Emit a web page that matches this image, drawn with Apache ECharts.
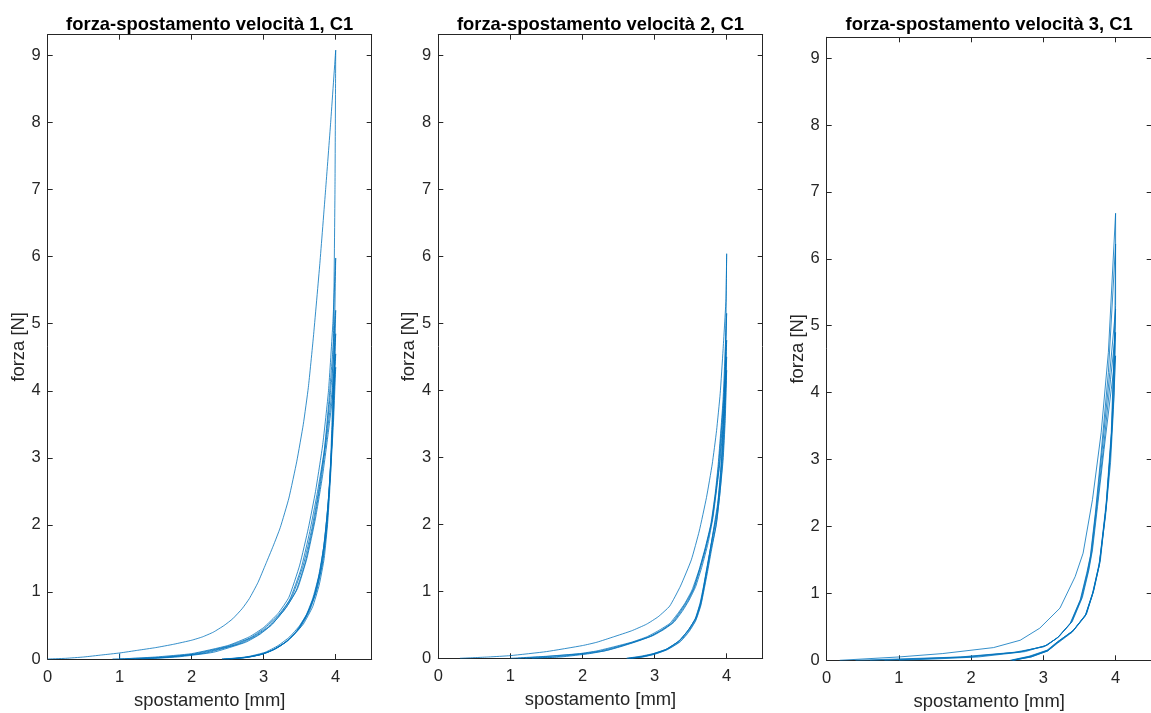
<!DOCTYPE html>
<html><head><meta charset="utf-8">
<script src="https://cdn.jsdelivr.net/npm/echarts@6/dist/echarts.min.js"></script>
<style>html,body{margin:0;padding:0;background:#fff}#c{width:1151px;height:713px}</style>
</head><body><div id="c"></div>
<script>
// ---------- text / ticks ----------
const titles = ['forza-spostamento velocità 1, C1', 'forza-spostamento velocità 2, C1', 'forza-spostamento velocità 3, C1'];
const xName = 'spostamento [mm]';
const yName = 'forza [N]';
const xTicks = [0, 1, 2, 3, 4];
const yTicks = [0, 1, 2, 3, 4, 5, 6, 7, 8, 9];
const xMax = 4.5;
const yMax = 9.31;

// ---------- panel 1 (velocità 1) ----------
const p1Load1 = [[0,0],[0.25,0.01],[0.5,0.03],[0.75,0.06],[1,0.09],[1.25,0.13],[1.5,0.17],[1.75,0.22],[2,0.28],[2.15,0.33],[2.3,0.4],[2.45,0.5],[2.57,0.6],[2.7,0.75],[2.8,0.9],[2.92,1.14],[3.03,1.42],[3.13,1.68],[3.23,1.96],[3.35,2.4],[3.46,2.95],[3.55,3.5],[3.62,4.05],[3.69,4.8],[3.78,5.9],[3.86,7.0],[3.93,8.0],[4.0,9.08]];
const p1Load2 = [[1.0,0.09],[1.0,0],[1.5,0.03],[2.0,0.08],[2.5,0.2],[2.8,0.33],[3.0,0.47],[3.2,0.68],[3.35,0.92],[3.5,1.4],[3.62,1.95],[3.72,2.5],[3.82,3.2],[3.9,4.0],[3.96,5.0],[4.0,5.98]];
const p1Load3 = [[0.9,0],[1.5,0.02],[2.0,0.07],[2.5,0.19],[2.8,0.31],[3.0,0.45],[3.2,0.65],[3.36,0.88],[3.52,1.35],[3.64,1.9],[3.74,2.45],[3.84,3.1],[3.91,3.9],[3.96,4.6],[4.0,5.2]];
const p1Load4 = [[1.1,0],[1.6,0.02],[2.1,0.08],[2.6,0.21],[2.85,0.33],[3.05,0.47],[3.25,0.7],[3.4,0.95],[3.55,1.4],[3.67,1.95],[3.77,2.55],[3.86,3.25],[3.93,4.0],[4.0,4.85]];
const p1Load5 = [[1.2,0],[1.7,0.03],[2.2,0.09],[2.7,0.24],[2.92,0.36],[3.1,0.5],[3.3,0.75],[3.45,1.02],[3.58,1.45],[3.7,2.05],[3.8,2.7],[3.88,3.35],[3.95,4.0],[4.0,4.55]];
const p1Load6 = [[1.3,0],[1.8,0.03],[2.3,0.1],[2.75,0.25],[2.95,0.37],[3.12,0.52],[3.32,0.78],[3.47,1.05],[3.6,1.5],[3.72,2.1],[3.82,2.75],[3.9,3.4],[3.96,3.95],[4.0,4.35]];
const p1Unl1 = [[4.0,9.08],[3.99,7.0],[3.97,4.9],[3.95,3.6],[3.92,2.7],[3.88,2.0],[3.82,1.45],[3.74,1.05],[3.64,0.75],[3.5,0.5],[3.36,0.33],[3.2,0.2],[3.02,0.1],[2.8,0.04],[2.6,0.01],[2.42,0]];
const p1Unl2 = [[4.0,5.98],[3.98,4.6],[3.96,3.6],[3.93,2.75],[3.89,2.05],[3.84,1.5],[3.77,1.1],[3.68,0.78],[3.55,0.52],[3.4,0.34],[3.24,0.2],[3.06,0.1],[2.85,0.04],[2.65,0.01],[2.48,0]];
const p1Unl3 = [[4.0,5.2],[3.98,4.2],[3.95,3.3],[3.91,2.5],[3.87,1.9],[3.81,1.4],[3.73,1.0],[3.63,0.7],[3.5,0.46],[3.35,0.29],[3.18,0.16],[3.0,0.08],[2.8,0.03],[2.55,0]];
const p1Unl4 = [[4.0,4.85],[3.97,3.9],[3.94,3.1],[3.9,2.4],[3.85,1.8],[3.79,1.35],[3.71,0.97],[3.61,0.68],[3.48,0.44],[3.33,0.27],[3.15,0.15],[2.98,0.07],[2.75,0.02],[2.5,0]];
const p1Unl5 = [[4.0,4.55],[3.97,3.7],[3.93,2.9],[3.89,2.25],[3.84,1.72],[3.78,1.3],[3.7,0.94],[3.6,0.66],[3.47,0.43],[3.32,0.26],[3.14,0.14],[2.96,0.07],[2.72,0.02],[2.45,0]];
const p1Unl6 = [[4.0,4.35],[3.97,3.55],[3.93,2.8],[3.88,2.15],[3.83,1.65],[3.76,1.22],[3.68,0.9],[3.58,0.63],[3.45,0.41],[3.3,0.25],[3.12,0.13],[2.94,0.06],[2.7,0.02],[2.42,0]];

// ---------- panel 2 (velocità 2) ----------
const p2Load1 = [[0.3,0],[0.7,0.02],[1.0,0.04],[1.5,0.1],[2.0,0.19],[2.2,0.24],[2.43,0.32],[2.68,0.41],[2.89,0.51],[3.05,0.62],[3.21,0.78],[3.36,1.08],[3.51,1.47],[3.62,1.9],[3.72,2.4],[3.8,2.9],[3.86,3.4],[3.91,3.95],[3.95,4.6],[3.99,5.35],[4.0,6.04]];
const p2Load2 = [[1.0,0],[1.5,0.03],[1.96,0.07],[2.2,0.11],[2.43,0.17],[2.68,0.24],[2.89,0.32],[3.05,0.41],[3.21,0.52],[3.33,0.68],[3.42,0.82],[3.52,1.02],[3.62,1.33],[3.7,1.64],[3.78,2.0],[3.84,2.45],[3.88,2.86],[3.95,3.86],[4.0,5.15]];
const p2Load3 = [[1.1,0],[1.55,0.03],[2.0,0.07],[2.25,0.11],[2.47,0.17],[2.7,0.24],[2.92,0.32],[3.08,0.41],[3.23,0.52],[3.35,0.69],[3.44,0.84],[3.54,1.04],[3.63,1.35],[3.71,1.66],[3.79,2.03],[3.85,2.5],[3.89,2.9],[3.96,3.9],[4.0,4.75]];
const p2Load4 = [[1.2,0],[1.6,0.02],[2.05,0.07],[2.3,0.11],[2.5,0.17],[2.74,0.25],[2.95,0.33],[3.1,0.42],[3.25,0.53],[3.37,0.7],[3.46,0.85],[3.55,1.05],[3.64,1.36],[3.72,1.68],[3.8,2.07],[3.86,2.55],[3.9,2.9],[3.96,3.8],[4.0,4.5]];
const p2Load5 = [[1.3,0],[1.7,0.02],[2.1,0.07],[2.35,0.12],[2.55,0.18],[2.78,0.26],[2.98,0.34],[3.13,0.43],[3.27,0.54],[3.39,0.71],[3.48,0.87],[3.57,1.07],[3.66,1.38],[3.74,1.71],[3.81,2.1],[3.87,2.6],[3.91,2.95],[3.97,3.75],[4.0,4.3]];
const p2Unl1 = [[4.0,6.04],[3.99,5.0],[3.97,4.0],[3.93,3.0],[3.88,2.35],[3.81,1.87],[3.75,1.47],[3.7,1.17],[3.65,0.87],[3.58,0.62],[3.48,0.44],[3.35,0.27],[3.17,0.14],[2.98,0.07],[2.8,0.03],[2.61,0]];
const p2Unl2 = [[4.0,5.15],[3.98,4.2],[3.96,3.5],[3.92,2.8],[3.87,2.22],[3.8,1.8],[3.74,1.42],[3.69,1.12],[3.64,0.84],[3.57,0.6],[3.47,0.42],[3.34,0.26],[3.16,0.13],[2.97,0.06],[2.8,0.02],[2.64,0]];
const p2Unl3 = [[4.0,4.75],[3.98,3.9],[3.95,3.2],[3.91,2.6],[3.86,2.1],[3.79,1.72],[3.73,1.38],[3.68,1.08],[3.63,0.82],[3.56,0.58],[3.46,0.41],[3.33,0.25],[3.15,0.13],[2.96,0.06],[2.79,0.02],[2.62,0]];
const p2Unl4 = [[4.0,4.5],[3.98,3.7],[3.95,3.05],[3.91,2.5],[3.86,2.02],[3.79,1.66],[3.74,1.36],[3.69,1.07],[3.64,0.8],[3.57,0.57],[3.47,0.4],[3.35,0.25],[3.17,0.13],[2.99,0.06],[2.82,0.02],[2.66,0]];
const p2Unl5 = [[4.0,4.3],[3.98,3.55],[3.95,2.95],[3.9,2.4],[3.85,1.96],[3.79,1.62],[3.74,1.32],[3.69,1.04],[3.64,0.78],[3.57,0.56],[3.48,0.4],[3.36,0.25],[3.18,0.13],[3.0,0.06],[2.84,0.02],[2.68,0]];

// ---------- panel 3 (velocità 3) ----------
const p3Load1 = [[0.18,0],[1.0,0.05],[1.6,0.1],[2.31,0.19],[2.68,0.3],[2.95,0.48],[3.23,0.78],[3.44,1.25],[3.55,1.6],[3.68,2.4],[3.8,3.4],[3.9,4.6],[4.0,6.68]];
const p3Load2 = [[0.4,0],[1.0,0.02],[1.85,0.05],[2.6,0.12],[3.0,0.2],[3.19,0.33],[3.37,0.55],[3.51,0.9],[3.6,1.3],[3.65,1.55],[3.72,2.2],[3.8,3.1],[3.9,4.3],[4.0,6.22]];
const p3Load3 = [[0.6,0],[1.2,0.02],[1.9,0.05],[2.65,0.12],[3.02,0.21],[3.2,0.34],[3.38,0.56],[3.52,0.92],[3.61,1.32],[3.66,1.6],[3.73,2.25],[3.81,3.1],[3.92,4.3],[4.0,5.25]];
const p3Load4 = [[0.8,0],[1.3,0.02],[2.0,0.05],[2.7,0.13],[3.04,0.22],[3.21,0.35],[3.39,0.57],[3.53,0.93],[3.62,1.33],[3.67,1.62],[3.74,2.28],[3.83,3.15],[3.93,4.2],[4.0,4.9]];
const p3Load5 = [[1.0,0],[1.5,0.02],[2.1,0.05],[2.75,0.13],[3.06,0.23],[3.22,0.36],[3.4,0.58],[3.54,0.94],[3.63,1.35],[3.68,1.65],[3.75,2.3],[3.84,3.15],[3.94,4.05],[4.0,4.55]];
const p3Unl1 = [[4.0,6.68],[4.0,5.3],[3.95,3.5],[3.88,2.4],[3.79,1.5],[3.7,1.05],[3.6,0.7],[3.42,0.45],[3.2,0.28],[3.05,0.15],[2.8,0.06],[2.54,0]];
const p3Unl2 = [[4.0,6.22],[3.99,5.0],[3.94,3.4],[3.87,2.35],[3.78,1.48],[3.69,1.03],[3.59,0.69],[3.41,0.44],[3.19,0.27],[3.06,0.15],[2.82,0.06],[2.56,0]];
const p3Unl3 = [[4.0,5.25],[3.98,4.3],[3.94,3.3],[3.87,2.3],[3.78,1.45],[3.69,1.02],[3.59,0.68],[3.41,0.44],[3.2,0.27],[3.07,0.15],[2.84,0.06],[2.58,0]];
const p3Unl4 = [[4.0,4.9],[3.98,4.0],[3.93,3.1],[3.86,2.2],[3.77,1.42],[3.68,1.0],[3.58,0.67],[3.4,0.43],[3.19,0.26],[3.06,0.14],[2.83,0.05],[2.57,0]];
const p3Unl5 = [[4.0,4.55],[3.97,3.75],[3.93,2.95],[3.86,2.15],[3.77,1.4],[3.68,0.98],[3.58,0.66],[3.4,0.42],[3.19,0.25],[3.06,0.14],[2.83,0.05],[2.58,0]];

const panelCurves = [
  [p1Load1,p1Load2,p1Load3,p1Load4,p1Load5,p1Load6,p1Unl1,p1Unl2,p1Unl3,p1Unl4,p1Unl5,p1Unl6],
  [p2Load1,p2Load2,p2Load3,p2Load4,p2Load5,p2Unl1,p2Unl2,p2Unl3,p2Unl4,p2Unl5],
  [p3Load1,p3Load2,p3Load3,p3Load4,p3Load5,p3Unl1,p3Unl2,p3Unl3,p3Unl4,p3Unl5]
];
const panelSmooth = [0.15, 0.15, 0];

// ---------- layout ----------
const gridBoxes = [
  {left: 47.7, top: 34.7, width: 324.0, height: 624.3},
  {left: 438.3, top: 34.7, width: 324.4, height: 623.6},
  {left: 826.7, top: 37.3, width: 325.0, height: 623.0}
];
const FONT = '"Liberation Sans", Arial, Helvetica, sans-serif';
const AX = '#262626';
const LINE = '#0072BD';

const grid = [], xAxis = [], yAxis = [], series = [], title = [];
gridBoxes.forEach((g, i) => {
  grid.push({left: g.left, top: g.top, width: g.width, height: g.height, show: false,
             containLabel: false, outerBoundsMode: 'none'});
  title.push({
    text: titles[i], left: g.left + g.width / 2 - 5, top: 11, textAlign: 'center',
    textStyle: {fontFamily: FONT, fontSize: 18.4, fontWeight: 'bold', color: '#000'}
  });
  const axLine = {show: true, onZero: false, lineStyle: {color: AX, width: 1}};
  const tick = (vals) => ({show: true, inside: true, length: 5, customValues: vals, lineStyle: {color: AX, width: 1}});
  xAxis.push({
    gridIndex: i, type: 'value', min: 0, max: xMax, position: 'bottom',
    axisLine: axLine, axisTick: tick(xTicks),
    axisLabel: {customValues: xTicks, margin: 10, fontSize: 16.5, color: AX, fontFamily: FONT},
    splitLine: {show: false},
    name: xName, nameLocation: 'middle', nameGap: 33,
    nameTextStyle: {fontFamily: FONT, fontSize: 18.4, color: AX}
  });
  xAxis.push({
    gridIndex: i, type: 'value', min: 0, max: xMax, position: 'top',
    axisLine: axLine, axisTick: tick(xTicks),
    axisLabel: {show: false}, splitLine: {show: false}
  });
  yAxis.push({
    gridIndex: i, type: 'value', min: 0, max: yMax, position: 'left',
    axisLine: axLine, axisTick: tick(yTicks),
    axisLabel: {customValues: yTicks, margin: 7, fontSize: 16.5, color: AX, fontFamily: FONT},
    splitLine: {show: false},
    name: yName, nameLocation: 'middle', nameGap: 16, nameRotate: 90,
    nameTextStyle: {fontFamily: FONT, fontSize: 18.4, color: AX}
  });
  yAxis.push({
    gridIndex: i, type: 'value', min: 0, max: yMax, position: 'right',
    axisLine: axLine, axisTick: tick(yTicks),
    axisLabel: {show: false}, splitLine: {show: false}
  });
  panelCurves[i].forEach(c => {
    series.push({
      type: 'line', xAxisIndex: 2 * i, yAxisIndex: 2 * i, data: c,
      showSymbol: false, symbol: 'none', smooth: panelSmooth[i], animation: false,
      lineStyle: {color: LINE, width: 0.8}, silent: true
    });
  });
});

const chart = echarts.init(document.getElementById('c'), null, {renderer: 'canvas'});
chart.setOption({animation: false, backgroundColor: '#fff', title, grid, xAxis, yAxis, series});
</script>
</body></html>
